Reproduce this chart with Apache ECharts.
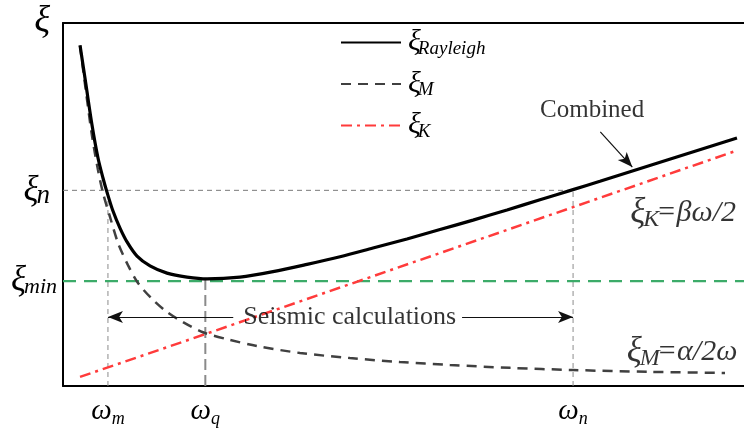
<!DOCTYPE html>
<html>
<head>
<meta charset="utf-8">
<script src="https://cdn.jsdelivr.net/npm/echarts@6/dist/echarts.min.js"></script>
<style>
  html, body { margin: 0; padding: 0; background: #fff; }
  #chart { width: 744px; height: 432px; }
</style>
</head>
<body>
<div id="chart"></div>
<script>
// Rayleigh damping: damping ratio ξ against circular frequency ω
// ω runs 0–10 along the bottom, ξ runs 0–1 up the side (arbitrary units)

// combined Rayleigh damping ξ = α/2ω + βω/2
const rayleighCurve = [
  [0.250, 0.939], [0.338, 0.829], [0.426, 0.719], [0.514, 0.628], [0.587, 0.573],
  [0.646, 0.534], [0.734, 0.482], [0.837, 0.435], [0.940, 0.397], [1.087, 0.358],
  [1.278, 0.331], [1.527, 0.311], [1.821, 0.300], [2.115, 0.295], [2.599, 0.300],
  [3.084, 0.315], [3.583, 0.335], [4.068, 0.356], [4.552, 0.380], [5.051, 0.405],
  [5.536, 0.431], [6.021, 0.457], [6.520, 0.485], [7.004, 0.513], [7.489, 0.541],
  [7.885, 0.564], [9.897, 0.683]
];
// mass-proportional part ξM = α/2ω
const massCurve = [
  [0.250, 0.937], [0.338, 0.810], [0.426, 0.689], [0.514, 0.595], [0.587, 0.532],
  [0.690, 0.466], [0.808, 0.394], [0.954, 0.333], [1.101, 0.284], [1.307, 0.240],
  [1.527, 0.204], [1.762, 0.176], [2.056, 0.148], [2.408, 0.129], [2.849, 0.110],
  [3.480, 0.091], [4.214, 0.077], [4.949, 0.066], [5.683, 0.058], [6.564, 0.050],
  [7.489, 0.044], [8.620, 0.039], [9.721, 0.036]
];
// stiffness-proportional part ξK = βω/2
const stiffnessCurve = [[0.25, 0.025], [2.09, 0.143], [9.87, 0.647]];

// reference frequencies and damping levels
const omegaM = 0.66, omegaQ = 2.09, omegaN = 7.49;
const xiN = 0.539, xiMin = 0.289;
const omegaTicks = [omegaM, omegaQ, omegaN];
const omegaTickNames = ['m', 'q', 'n'];
const xiTicks = [xiMin, xiN];
const xiTickLabels = ['{x|ξ}{m|min}', '{x|ξ}{n|n}'];

// span of the seismic-calculation band
const seismicY = 0.190;
const seismicTextLeft = 2.50, seismicTextRight = 5.86, seismicTextX = 4.21;

const SERIF = '"Liberation Serif", "DejaVu Serif", serif';

const chart = echarts.init(document.getElementById('chart'), null, { renderer: 'canvas' });

const sub = (size, drop) => ({
  fontFamily: SERIF, fontStyle: 'italic', fontSize: size, color: '#000',
  padding: [drop, 0, 0, 0]
});
const xi = (size) => ({ fontFamily: SERIF, fontStyle: 'italic', fontSize: size, color: '#000' });

function refLine(name, pts, color, width, dash) {
  return {
    name, type: 'line', data: pts, symbol: 'none', silent: true, z: 1,
    lineStyle: { color, width, type: dash }
  };
}

function textMark(x, y, text, rich, align, upright) {
  return {
    type: 'scatter', data: [[x, y]], symbolSize: 0, silent: true, z: 5,
    label: {
      show: true, position: [0, 0], align: align || 'left', verticalAlign: 'middle',
      formatter: text, rich: rich, color: '#000', fontFamily: SERIF,
      fontSize: upright || 26, fontStyle: 'normal'
    }
  };
}

const legendNames = { Rayleigh: 'Rayleigh', M: 'M', K: 'K' };

chart.setOption({
  animation: false,
  backgroundColor: '#fff',
  grid: { left: 63, right: 0, top: 23, bottom: 46, outerBoundsMode: 'none', containLabel: false },
  legend: {
    orient: 'vertical', left: 340, top: 27, padding: 0,
    itemWidth: 60, itemHeight: 2, itemGap: 10.5,
    itemStyle: { opacity: 0 },
    data: ['Rayleigh', 'M', 'K'],
    formatter: (n) => '{x|ξ}{s|' + legendNames[n] + '}',
    textStyle: {
      padding: [0, 0, 0, 2],
      rich: {
        x: Object.assign(xi(30), { lineHeight: 33 }),
        s: Object.assign(sub(19, 12), { lineHeight: 20, padding: [12, 0, 0, -3] })
      }
    },
    selectedMode: false
  },
  xAxis: [{
    type: 'value', min: 0, max: 10, position: 'bottom',
    axisLine: { show: true, onZero: false, lineStyle: { color: '#000', width: 2 } },
    axisTick: { show: false }, splitLine: { show: false },
    axisLabel: {
      customValues: omegaTicks, margin: 9,
      formatter: (v) => {
        const i = omegaTicks.findIndex(t => Math.abs(t - v) < 1e-6);
        return '{w|ω}{s|' + omegaTickNames[i] + '}';
      },
      rich: {
        w: Object.assign(xi(29), { lineHeight: 32 }),
        s: Object.assign(sub(18, 16), { lineHeight: 18 })
      }
    }
  }, {
    type: 'value', min: 0, max: 10, position: 'top',
    axisLine: { show: true, onZero: false, lineStyle: { color: '#000', width: 2 } },
    axisTick: { show: false }, splitLine: { show: false }, axisLabel: { show: false }
  }],
  yAxis: {
    type: 'value', min: 0, max: 1,
    name: '{x|ξ}', nameLocation: 'end', nameGap: 0,
    nameTextStyle: {
      align: 'right', verticalAlign: 'middle', padding: [0, 13, 2, 0],
      rich: { x: xi(37) }
    },
    axisLine: { show: true, onZero: false, lineStyle: { color: '#000', width: 2 } },
    axisTick: { show: false }, splitLine: { show: false },
    axisLabel: {
      customValues: xiTicks, margin: 6,
      formatter: (v) => xiTickLabels[xiTicks.findIndex(t => Math.abs(t - v) < 1e-6)],
      rich: {
        x: Object.assign(xi(35), { lineHeight: 36 }),
        m: Object.assign(sub(22, 12), { lineHeight: 24, padding: [12, 0, 0, -2] }),
        n: Object.assign(sub(27, 12), { lineHeight: 26, padding: [12, 7, 0, -2] })
      }
    }
  },
  series: [
    // guide lines
    refLine('xiN', [[0, xiN], [omegaN, xiN]], '#7a7a7a', 1, [5, 4]),
    refLine('omegaM', [[omegaM, 0], [omegaM, xiN]], '#8c8c8c', 1, [5, 4]),
    refLine('omegaN', [[omegaN, 0], [omegaN, xiN]], '#8c8c8c', 1, [5, 4]),
    refLine('omegaQ', [[omegaQ, 0], [omegaQ, xiMin + 0.01]], '#8a8a8a', 2, [11, 5]),
    refLine('xiMin', [[0, xiMin], [10, xiMin]], '#3cab69', 2.2, [13, 8]),
    {
      name: 'K', type: 'line', data: stiffnessCurve, symbol: 'none', z: 3,
      lineStyle: { color: '#ff3b3b', width: 2.5, type: [11, 5, 3, 5] },
      itemStyle: { color: '#ff3b3b' }
    },
    {
      name: 'M', type: 'line', data: massCurve, symbol: 'none', smooth: 0.3, z: 3,
      lineStyle: { color: '#404040', width: 2.5, type: [10, 7] },
      itemStyle: { color: '#404040' }
    },
    {
      name: 'Rayleigh', type: 'line', data: rayleighCurve, symbol: 'none', smooth: 0.3, z: 4,
      lineStyle: { color: '#000', width: 3.2 },
      itemStyle: { color: '#000' },
      markLine: {
        silent: true, symbol: ['none', 'arrow'], symbolSize: [9, 15],
        label: { show: false },
        lineStyle: { color: '#111', width: 1.2, type: 'solid' },
        data: [
          [{ coord: [seismicTextLeft, seismicY] }, { coord: [omegaM, seismicY] }],
          [{ coord: [seismicTextRight, seismicY] }, { coord: [omegaN, seismicY] }],
          [{ coord: [7.89, 0.700] }, { coord: [8.36, 0.603] }]
        ]
      }
    },
    textMark(seismicTextX, seismicY, 'Seismic calculations', {}, 'center', 26),
    textMark(7.77, 0.760, 'Combined', {}, 'center', 25),
    textMark(8.33, 0.477, '{x|ξ}{s|K}{t|=βω/2}', {
      x: xi(35), s: Object.assign(sub(24, 14), { padding: [14, 0, 0, -2] }),
      t: { fontFamily: SERIF, fontStyle: 'italic', fontSize: 30, color: '#000', padding: [0, 0, 0, -3] }
    }),
    textMark(8.28, 0.094, '{x|ξ}{s|M}{t|=α/2ω}', {
      x: xi(35), s: Object.assign(sub(24, 14), { padding: [14, 0, 0, -2] }),
      t: { fontFamily: SERIF, fontStyle: 'italic', fontSize: 30, color: '#000', padding: [0, 0, 0, -3] }
    })
  ]
});
</script>
</body>
</html>
